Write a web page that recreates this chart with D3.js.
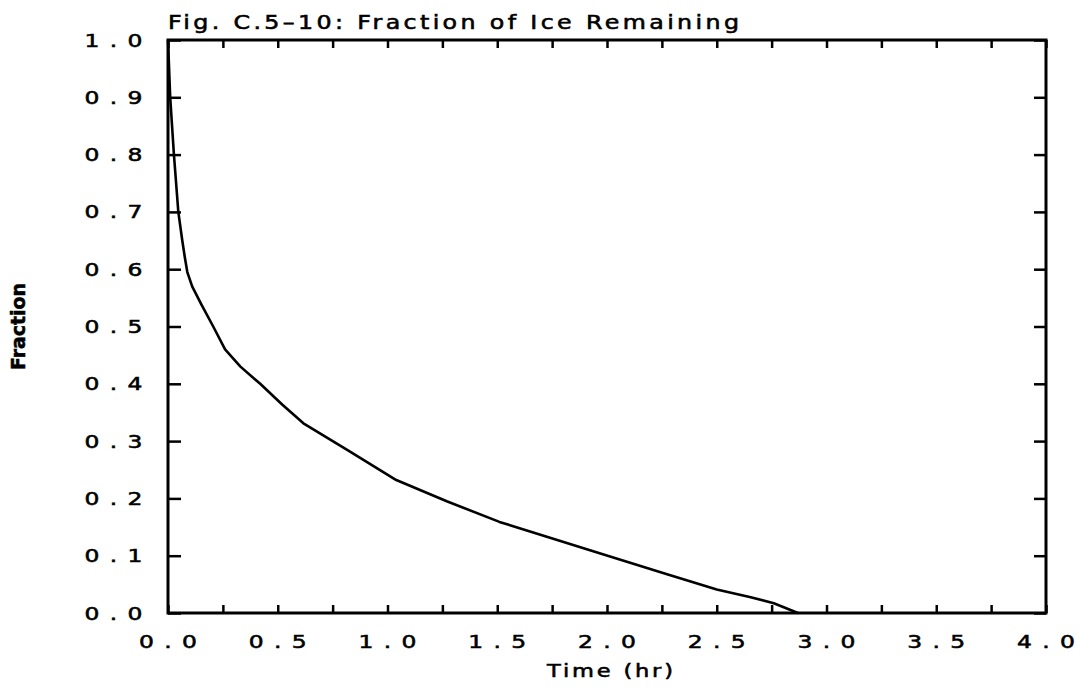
<!DOCTYPE html>
<html>
<head>
<meta charset="utf-8">
<script src="https://cdn.jsdelivr.net/npm/d3@7"></script>
<style>
  html, body { margin: 0; padding: 0; background: #fff; }
  svg { display: block; }
  text { font-family: "DejaVu Sans", sans-serif; fill: #000; stroke: #000; stroke-width: 0.55; }
</style>
</head>
<body>
<svg id="chart" width="1082" height="694"></svg>
<script>
// ---- Data ----
const timeHr   = [0, 0.01, 0.027, 0.047, 0.065, 0.077, 0.088, 0.11, 0.15, 0.206, 0.26, 0.33, 0.42, 0.52, 0.617, 0.82, 1.04, 1.27, 1.51, 1.97, 2.27, 2.50, 2.65, 2.76, 2.87];
const fraction = [1.0, 0.9, 0.8, 0.7, 0.65, 0.62, 0.595, 0.57, 0.54, 0.5, 0.46, 0.43, 0.40, 0.364, 0.331, 0.284, 0.232, 0.195, 0.159, 0.104, 0.068, 0.041, 0.028, 0.017, 0.0];
const xTickLabels = ["0.0", "0.5", "1.0", "1.5", "2.0", "2.5", "3.0", "3.5", "4.0"];
const yTickLabels = ["0.0", "0.1", "0.2", "0.3", "0.4", "0.5", "0.6", "0.7", "0.8", "0.9", "1.0"];
const titleText = "Fig. C.5\u201310: Fraction of Ice Remaining";
const xTitle = "Time (hr)";
const yTitle = "Fraction";

(function () {
  // ---- Layout ----
  const pL = 168, pR = 1046, pT = 40, pB = 613;
  const svg = d3.select("#chart");
  const x = d3.scaleLinear().domain([0, 4]).range([pL, pR]);
  const y = d3.scaleLinear().domain([0, 1]).range([pB, pT]);

  const data = timeHr.map((t, i) => ({ t, f: fraction[i] }));

  // Curve
  svg.append("path")
    .datum(data)
    .attr("fill", "none")
    .attr("stroke", "#000")
    .attr("stroke-width", 2.6)
    .attr("stroke-linejoin", "round")
    .attr("d", d3.line().x(d => x(d.t)).y(d => y(d.f)));

  // Ticks via axes (inward)
  const xMinor = d3.range(0, 4.0001, 0.25);
  const yMajor = d3.range(0, 1.0001, 0.1);

  const gB = svg.append("g").attr("transform", `translate(0,${pB})`)
    .call(d3.axisTop(x).tickValues(xMinor).tickSize(8).tickFormat(""));
  const gT = svg.append("g").attr("transform", `translate(0,${pT})`)
    .call(d3.axisBottom(x).tickValues(xMinor).tickSize(8).tickFormat(""));
  const gL = svg.append("g").attr("transform", `translate(${pL},0)`)
    .call(d3.axisRight(y).tickValues(yMajor).tickSize(13).tickFormat(""));
  const gR = svg.append("g").attr("transform", `translate(${pR},0)`)
    .call(d3.axisLeft(y).tickValues(yMajor).tickSize(12).tickFormat(""));
  [gB, gT, gL, gR].forEach(g => {
    g.select(".domain").remove();
    g.selectAll(".tick line").attr("stroke", "#000").attr("stroke-width", 2.5);
  });

  // Frame
  svg.append("rect")
    .attr("x", pL).attr("y", pT)
    .attr("width", pR - pL).attr("height", pB - pT)
    .attr("fill", "none").attr("stroke", "#000").attr("stroke-width", 3);

  // Tick labels: each character on a fixed pitch, wide round glyphs (plotter style)
  const pitch = 21.5, sx = 1.3;
  function spaced(sel, cx, cy, str, anchorRight) {
    const t = sel.append("text")
      .attr("transform", `translate(${cx},${cy}) scale(${sx},1)`)
      .attr("font-size", 18)
      .attr("text-anchor", "middle");
    const chars = str.split("");
    const n = chars.length;
    chars.forEach((c, k) => {
      const off = anchorRight ? (k - (n - 1)) * pitch : (k - (n - 1) / 2) * pitch;
      t.append("tspan").attr("x", off / sx).attr("y", 0).text(c);
    });
  }
  const gxl = svg.append("g");
  xTickLabels.forEach((s, i) => spaced(gxl, x(i * 0.5), 648, s, false));
  const gyl = svg.append("g");
  yTickLabels.forEach((s, i) => spaced(gyl, 135, y(i * 0.1) + 6.5, s, true));

  // Title
  svg.append("text")
    .attr("transform", `translate(${pL},29) scale(1.25,1)`)
    .attr("font-size", 19)
    .attr("textLength", 571 / 1.25)
    .attr("lengthAdjust", "spacing")
    .text(titleText);

  // X axis title
  svg.append("text")
    .attr("transform", `translate(${(pL + pR) / 2 + 3},677) scale(1.25,1)`)
    .attr("text-anchor", "middle")
    .attr("font-size", 18)
    .attr("textLength", 126 / 1.25)
    .attr("lengthAdjust", "spacing")
    .text(xTitle);

  // Y axis title (condensed)
  svg.append("text")
    .attr("transform", `translate(25,${(pT + pB) / 2}) rotate(-90)`)
    .attr("text-anchor", "middle")
    .attr("font-size", 19)
    .attr("font-weight", "bold")
    .attr("stroke-width", 0)
    .attr("textLength", 87)
    .attr("lengthAdjust", "spacingAndGlyphs")
    .text(yTitle);
})();
</script>
</body>
</html>
